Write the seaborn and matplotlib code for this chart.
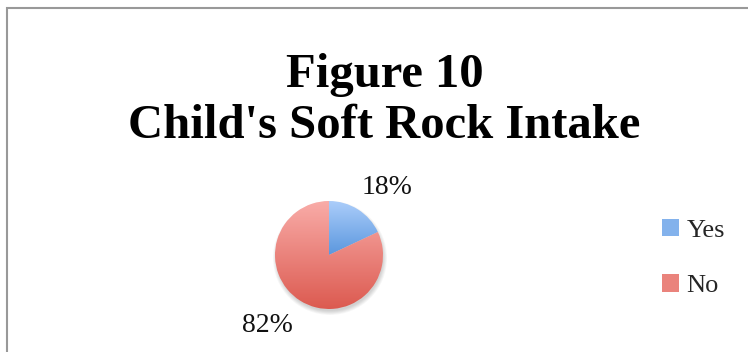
import numpy as np
import matplotlib
matplotlib.use("Agg")
import matplotlib.pyplot as plt
import matplotlib.patches as mpatches
from matplotlib.colors import LinearSegmentedColormap
import seaborn as sns

# Survey answers
categories = ["Yes", "No"]
shares = [18, 82]
title_lines = ["Figure 10", "Child's Soft Rock Intake"]

sns.set_theme(style="white")
plt.rcParams["font.family"] = ["Liberation Serif", "DejaVu Serif"]

W, H = 748, 352
fig = plt.figure(figsize=(W / 100, H / 100), dpi=100)
ax = fig.add_axes([0, 0, 1, 1])

# top (light) and bottom (dark) shades for each slice
shades = {
    "Yes": ("#abcdfa", "#5b97de"),
    "No": ("#f9aca8", "#dc5a50"),
}

cx, cy, r = 329, H - 255, 54

# soft drop shadow beneath the pie
for k in range(6):
    ax.add_patch(mpatches.Circle((cx + 1, cy - 3), r + 3 - k * 0.8,
                                 color="#000000", alpha=0.03, lw=0, zorder=0))

wedges, _ = ax.pie(shares, startangle=90, counterclock=False, radius=r,
                   center=(cx, cy), frame=True,
                   wedgeprops=dict(linewidth=0, edgecolor="none"))

# vertical gradient inside each wedge
for w, cat in zip(wedges, categories):
    top, bottom = shades[cat]
    cmap = LinearSegmentedColormap.from_list(cat, [bottom, top])
    bb = w.get_path().get_extents()
    grad = np.linspace(0, 1, 256).reshape(-1, 1)
    im = ax.imshow(grad, cmap=cmap, origin="lower", aspect="auto",
                   extent=[bb.x0, bb.x1, bb.y0, bb.y1], zorder=2,
                   interpolation="bilinear")
    im.set_clip_path(w)
    w.set_facecolor("none")

ax.set_xlim(0, W)
ax.set_ylim(0, H)
ax.set_aspect("equal")
ax.axis("off")

# percentage labels
label_pos = {"Yes": (387, H - 188), "No": (267, H - 325)}
for cat, v in zip(categories, shares):
    x, y = label_pos[cat]
    ax.text(x, y, f"{v}%", ha="center", va="center", fontsize=20,
            color="#111111")

# title
ax.text(385, H - 87, title_lines[0], ha="center", va="baseline",
        fontsize=35, fontweight="bold", color="#000000")
ax.text(384, H - 138, title_lines[1], ha="center", va="baseline",
        fontsize=35, fontweight="bold", color="#000000")

# legend
handles = []
for c in categories:
    top, bottom = shades[c]
    handles.append(mpatches.Patch(facecolor=sns.blend_palette([top, bottom], 3)[1],
                                  edgecolor="none"))
leg = fig.legend(handles, categories, loc="center left",
                 bbox_to_anchor=(649 / W, 1 - 258 / H), frameon=False,
                 fontsize=19, handlelength=0.62, handleheight=0.62,
                 handletextpad=0.3, labelspacing=1.25, borderpad=0)

# chart border
fig.add_artist(mpatches.Rectangle((6.5 / W, 0 - 0.1), 1.2, (H - 8.5) / H + 0.1,
                                  transform=fig.transFigure, fill=False,
                                  edgecolor="#999999", linewidth=1.5,
                                  clip_on=False))

fig.savefig("out.png", dpi=100)
